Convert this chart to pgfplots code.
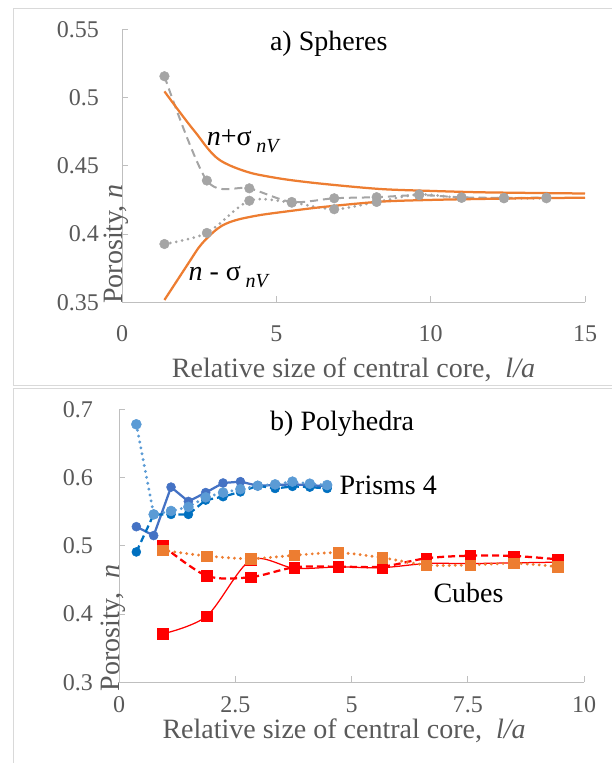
\documentclass[border=0pt]{standalone}
\usepackage{pgfplots}
\pgfplotsset{compat=1.18}
\usepackage{fontspec}
\setmainfont{Liberation Serif}
\definecolor{spheregray}{HTML}{A5A5A5}
\definecolor{xorange}{HTML}{ED7D31}
\definecolor{lblue}{HTML}{5B9BD5}
\definecolor{dblue}{HTML}{4472C4}
\definecolor{mblue}{HTML}{0070C0}
\definecolor{xred}{HTML}{FF0000}
\definecolor{tickgray}{HTML}{595959}
\definecolor{axisgray}{HTML}{BFBFBF}
\definecolor{framegray}{HTML}{D9D9D9}
\pgfplotsset{
  excel/.style={
    scale only axis,
    axis x line*=bottom, axis y line*=left,
    axis line style={draw=axisgray, line width=1pt, -},
    tick align=inside, major tick length=6pt,
    tick style={draw=axisgray, line width=1pt},
    ticklabel style={font=\fontsize{24}{28}\selectfont, text=tickgray},
    /pgf/number format/assume math mode=true,
    /pgf/number format/fixed,
    label style={font=\fontsize{28}{32}\selectfont, text=tickgray},
    clip=false,
  },
}
\tikzset{ann/.style={anchor=base west, font=\fontsize{28}{32}\selectfont, text=black, inner sep=0pt}}
\newcommand{\sub}[1]{\raisebox{-7pt}{\fontsize{20}{24}\selectfont\textit{#1}}}
\begin{document}
\begin{tikzpicture}[x=1pt,y=1pt]
\useasboundingbox (0,0) rectangle (612,763);
\draw[framegray, line width=1pt] (13,754) rectangle (620,377);
\draw[framegray, line width=1pt] (13,374) rectangle (620,-5);

% ---------------- a) Spheres ----------------
\begin{axis}[excel,
  at={(122pt,460.7pt)}, anchor=south west,
  width=463pt, height=273pt,
  xmin=0, xmax=15, ymin=0.35, ymax=0.55,
  xtick={0,5,10,15}, ytick={0.35,0.4,0.45,0.5,0.55},
  yticklabel style={anchor=east, inner sep=0pt, xshift=-23pt},
  xticklabel style={anchor=north, inner sep=0pt, yshift=-23pt},
  xlabel={Relative size of central core,\ \ \textit{l/a}},
  xlabel style={at={(axis description cs:0.5,0)}, anchor=base, yshift=-75pt, inner sep=0pt},
  ylabel={Porosity,\ \textit{n}},
  ylabel style={at={(axis description cs:0,0.5286)}, anchor=base, xshift=-86pt, inner sep=0pt},
]
\addplot[color=spheregray, line width=2pt, dash pattern=on 8pt off 5pt, smooth,
  mark=*, mark size=4.8pt, mark options={solid, line width=0.5pt, fill=spheregray, draw=spheregray}] table {
1.375 0.5156
2.75 0.4392
4.125 0.4335
5.5 0.4235
6.875 0.4262
8.25 0.4270
9.625 0.4285
11.0 0.4269
12.375 0.4265
13.75 0.4267
};
\addplot[color=spheregray, line width=3pt, dash pattern=on 0pt off 6pt, line cap=round, smooth,
  mark=*, mark size=4.8pt, mark options={solid, line width=0.5pt, fill=spheregray, draw=spheregray}] table {
1.375 0.3927
2.75 0.4008
4.125 0.4244
5.5 0.4230
6.875 0.4182
8.25 0.4235
9.625 0.4290
11.0 0.4265
12.375 0.4262
13.75 0.4262
};
\addplot[color=xorange, line width=2.25pt, smooth, no markers] table {
1.375 0.5045
1.8 0.4915
2.148 0.4811
2.45 0.4725
2.69 0.4652
2.85 0.4608
3.01 0.4570
3.2 0.4537
3.44 0.4508
3.8 0.4475
4.31 0.4440
5.28 0.4401
6.5 0.4368
8.36 0.4330
10.0 0.4316
11.6 0.4306
13.3 0.4301
15.0 0.4297
};
\addplot[color=xorange, line width=2.25pt, smooth, no markers] table {
1.375 0.3517
1.9 0.3699
2.2 0.3803
2.47 0.3896
2.65 0.3945
2.80 0.3980
3.0 0.4022
3.23 0.4060
3.5 0.4088
3.88 0.4113
4.5 0.4140
5.28 0.4164
6.5 0.4198
8.36 0.4237
10.0 0.4250
11.6 0.4257
13.3 0.4263
15.0 0.4266
};
\node[ann] at (axis cs:4.79,0.5348) {a) Spheres};
\node[ann] at (axis cs:2.74,0.4647) {\textit{n}+σ\,\sub{nV}};
\node[ann] at (axis cs:2.15,0.3663) {\textit{n} - σ\,\sub{nV}};
\end{axis}

% ---------------- b) Polyhedra ----------------
\begin{axis}[excel,
  at={(119pt,80.7pt)}, anchor=south west,
  width=465pt, height=273pt,
  xmin=0, xmax=10, ymin=0.3, ymax=0.7,
  xtick={0,2.5,5,7.5,10}, ytick={0.3,0.4,0.5,0.6,0.7},
  yticklabel style={anchor=east, inner sep=0pt, xshift=-26pt},
  xticklabel style={anchor=north, inner sep=0pt, yshift=-14pt},
  xlabel={Relative size of central core,\ \ \textit{l/a}},
  xlabel style={at={(axis description cs:0.484,0)}, anchor=base, yshift=-56pt, inner sep=0pt},
  ylabel={Porosity,\ \ \textit{n}},
  ylabel style={at={(axis description cs:0,0.4967)}, anchor=base, xshift=-81.5pt, inner sep=0pt},
]
\addplot[color=dblue, line width=2.25pt,
  mark=*, mark size=4.5pt, mark options={solid, line width=0.5pt, fill=dblue, draw=dblue}] table {
0.373 0.528
0.746 0.515
1.119 0.586
1.492 0.565
1.865 0.578
2.238 0.592
2.611 0.594
2.984 0.588
3.357 0.589
3.730 0.590
4.103 0.589
4.476 0.587
};
\addplot[color=mblue, line width=2.25pt, dash pattern=on 7pt off 4pt,
  mark=*, mark size=4.5pt, mark options={solid, line width=0.5pt, fill=mblue, draw=mblue}] table {
0.373 0.491
0.746 0.546
1.119 0.546
1.492 0.546
1.865 0.567
2.238 0.572
2.611 0.579
2.984 0.588
3.357 0.584
3.730 0.587
4.103 0.586
4.476 0.584
};
\addplot[color=lblue, line width=3.2pt, dash pattern=on 0pt off 6pt, line cap=round,
  mark=*, mark size=5pt, mark options={solid, line width=0.5pt, fill=lblue, draw=lblue}] table {
0.373 0.678
0.746 0.546
1.119 0.551
1.492 0.557
1.865 0.571
2.238 0.578
2.611 0.583
2.984 0.588
3.357 0.590
3.730 0.594
4.103 0.591
4.476 0.589
};
\addplot[color=xred, line width=1.25pt, smooth,
  mark=square*, mark size=5.2pt, mark options={solid, line width=0.5pt, fill=xred, draw=xred}] table {
0.944 0.371
1.887 0.397
2.831 0.479
3.775 0.467
4.719 0.469
5.662 0.468
6.606 0.474
7.550 0.474
8.493 0.475
9.437 0.476
};
\addplot[color=xred, line width=2.25pt, dash pattern=on 7pt off 4pt, smooth,
  mark=square*, mark size=5.2pt, mark options={solid, line width=0.5pt, fill=xred, draw=xred}] table {
0.944 0.500
1.887 0.456
2.831 0.454
3.775 0.4685
4.719 0.4694
5.662 0.4695
6.606 0.4817
7.550 0.4855
8.493 0.4851
9.437 0.4802
};
\addplot[color=xorange, line width=3.2pt, dash pattern=on 0pt off 6pt, line cap=round, smooth,
  mark=square*, mark size=5.2pt, mark options={solid, line width=0.5pt, fill=xorange, draw=xorange}] table {
0.944 0.4934
1.887 0.4851
2.831 0.4811
3.775 0.4861
4.719 0.4899
5.662 0.4826
6.606 0.4719
7.550 0.4719
8.493 0.4744
9.437 0.4694
};
\node[ann] at (axis cs:3.247,0.6686) {b) Polyhedra};
\node[ann] at (axis cs:4.74,0.5755) {Prisms 4};
\node[ann] at (axis cs:6.76,0.4166) {Cubes};
\end{axis}
\end{tikzpicture}
\end{document}
